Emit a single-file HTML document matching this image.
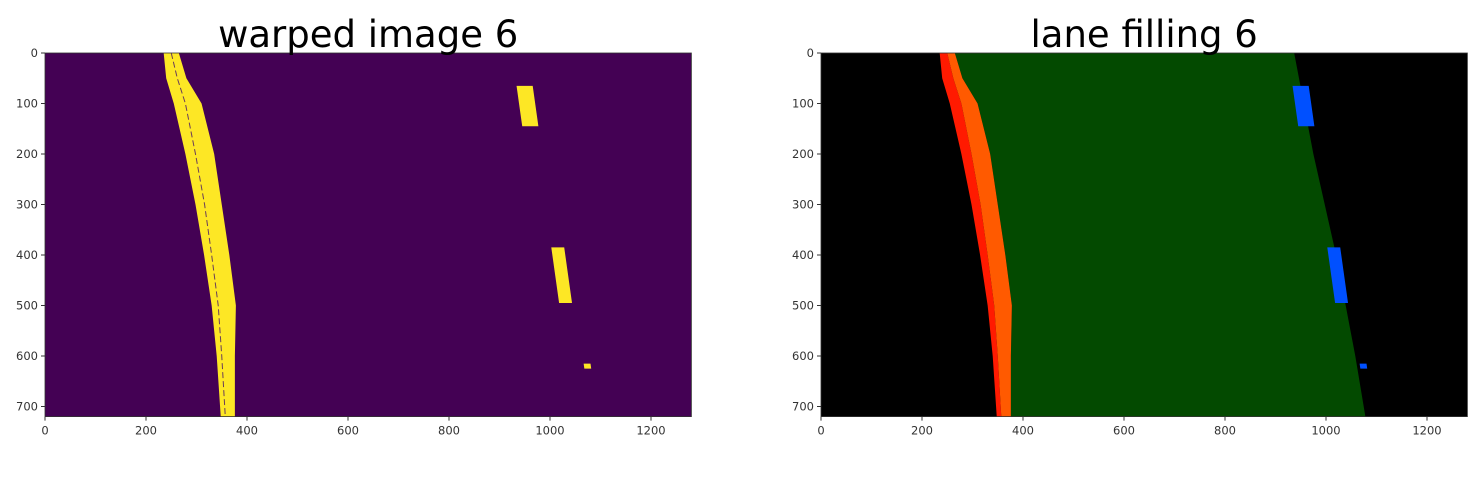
<!DOCTYPE html>
<html><head><meta charset="utf-8">
<style>
html,body{margin:0;padding:0;background:#fff;}
svg{display:block;font-family:"DejaVu Sans","Liberation Sans",sans-serif;}
</style></head>
<body>
<svg id="fig" width="1480" height="477" viewBox="0 0 1480 477" xmlns="http://www.w3.org/2000/svg"></svg>
<script>
// data (image coordinates, pixels of the 1280x720 source image)
const laneY      = [0, 50, 100, 200, 300, 400, 500, 600, 720];
const leftOuter  = [235, 240, 255, 278, 298, 315, 330, 340, 348];
const leftMid    = [250, 262, 278, 298, 316, 330, 343, 350, 357];
const leftInner  = [265, 280, 310, 335, 350, 365, 378, 376, 376];
const rightEdgeY = [0, 200, 400, 600, 720];
const rightEdgeX = [937, 975, 1020, 1058, 1078];
const blobX0 = [945, 1018, 1068];
const blobX1 = [985, 1050, 1085];
const blobY0 = [65, 385, 615];
const blobY1 = [145, 495, 625];
const xTicks = [0, 200, 400, 600, 800, 1000, 1200];
const yTicks = [0, 100, 200, 300, 400, 500, 600, 700];

const NS = "http://www.w3.org/2000/svg";
const svg = document.getElementById('fig');
function mk(tag, attrs, parent){const e=document.createElementNS(NS,tag);for(const k in attrs)e.setAttribute(k,attrs[k]);(parent||svg).appendChild(e);return e;}

const panels = [
  {x0:45, title:"warped image 6", bg:"#440154", name:"warped"},
  {x0:821, title:"lane filling 6", bg:"#000000", name:"lane-filling"}
];
const y0 = 53, scale = 0.505;

panels.forEach((p, pi) => {
  const sx = v => p.x0 + v*scale;
  const sy = v => y0 + v*scale;
  const g = mk('g', {});
  
  
  const bg = mk('rect', {x:sx(0), y:sy(0), width:1280*scale, height:720*scale, fill:p.bg}, g);
  
  

  const poly = (xsA, xsB, ys) => {
    const pts = [];
    for (let i=0;i<ys.length;i++) pts.push(sx(xsA[i])+','+sy(ys[i]));
    for (let i=ys.length-1;i>=0;i--) pts.push(sx(xsB[i])+','+sy(ys[i]));
    return pts.join(' ');
  };

  if (pi === 0) {
    const l = mk('polygon', {points:poly(leftOuter, leftInner, laneY), fill:"#fde725"}, g);
    
    
    const pts = laneY.map((y,i)=>sx(leftMid[i])+','+sy(y)).join(' ');
    const m = mk('polyline', {points:pts, fill:"none", stroke:"#6a3d5a", "stroke-width":1, "stroke-dasharray":"6 3"}, g);
    
    
  } else {
    const gp = [];
    for (let i=0;i<laneY.length;i++) gp.push(sx(leftInner[i])+','+sy(laneY[i]));
    for (let i=rightEdgeY.length-1;i>=0;i--) gp.push(sx(rightEdgeX[i])+','+sy(rightEdgeY[i]));
    const gr = mk('polygon', {points:gp.join(' '), fill:"#034a00"}, g);
    
    
    const r = mk('polygon', {points:poly(leftOuter, leftMid, laneY), fill:"#ff1a00"}, g);
    
    
    const o = mk('polygon', {points:poly(leftMid, leftInner, laneY), fill:"#ff5a00"}, g);
    
    
  }
  for (let i=0;i<blobX0.length;i++){
    const b = mk('rect', {x:sx(blobX0[i]), y:sy(blobY0[i]), width:(blobX1[i]-blobX0[i])*scale*0.8, height:(blobY1[i]-blobY0[i])*scale, fill: pi===0?"#fde725":"#0050ff", transform:`skewX(8)`, "transform-origin":`${sx(blobX0[i])} ${sy(blobY1[i])}`}, g);
    
    
  }
  const frame = mk('rect', {x:sx(0), y:sy(0), width:1280*scale, height:720*scale, fill:"none", stroke:"#333", "stroke-width":0.8}, g);
  
  

  xTicks.forEach(t => {
    const tl = mk('line', {x1:sx(t), x2:sx(t), y1:sy(720), y2:sy(720)+4, stroke:"#333"}, g);
    
    
    const tx = mk('text', {x:sx(t), y:sy(720)+18, "font-size":11.5, fill:"#333", "text-anchor":"middle"}, g);
    tx.textContent = t;
    
    
  });
  yTicks.forEach(t => {
    const tl = mk('line', {x1:sx(0)-4, x2:sx(0), y1:sy(t), y2:sy(t), stroke:"#333"}, g);
    
    
    const tx = mk('text', {x:sx(0)-7, y:sy(t)+4, "font-size":11.5, fill:"#333", "text-anchor":"end"}, g);
    tx.textContent = t;
    
    
  });
  const ti = mk('text', {x:sx(640), y:47, "font-size":37, fill:"#000", "text-anchor":"middle"}, g);
  ti.textContent = p.title;
  
  
});
</script>
</body></html>
